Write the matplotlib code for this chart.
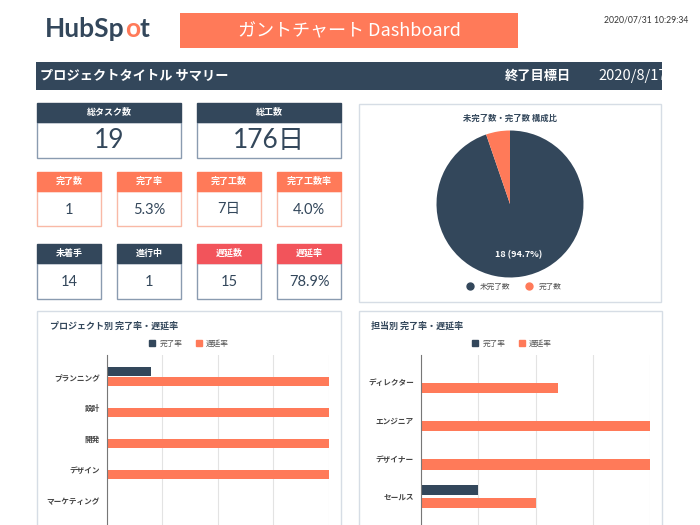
import matplotlib
matplotlib.use('Agg')
import matplotlib.pyplot as plt
from matplotlib.patches import Rectangle, Patch
from matplotlib.lines import Line2D

plt.rcParams['font.family'] = ['Noto Sans CJK JP', 'DejaVu Sans']

DARK = '#33475b'
ORANGE = '#ff7a59'
RED = '#f2545b'
GRAY_BORDER = '#8a9bb0'
LIGHT_BORDER = '#d6dde5'
NUM_FONT = ['Lato', 'Noto Sans CJK JP']

# ---- data ----
title_text = 'ガントチャート Dashboard'
timestamp = '2020/07/31 10:29:34'
summary_title = 'プロジェクトタイトル サマリー'
goal_label = '終了目標日'
goal_date = '2020/8/17'

top_labels = ['総タスク数', '総工数']
top_values = ['19', '176日']
done_labels = ['完了数', '完了率', '完了工数', '完了工数率']
done_values = ['1', '5.3%', '7日', '4.0%']
status_labels = ['未着手', '進行中', '遅延数', '遅延率']
status_values = ['14', '1', '15', '78.9%']
status_colors = [DARK, DARK, RED, RED]

pie_title = '未完了数・完了数 構成比'
pie_labels = ['未完了数', '完了数']
pie_values = [18, 1]

series_names = ['完了率', '遅延率']
projects = ['プランニング', '設計', '開発', 'デザイン', 'マーケティング']
proj_done = [20, 0, 0, 0, 0]
proj_delay = [100, 100, 100, 100, 0]
owners = ['ディレクター', 'エンジニア', 'デザイナー', 'セールス']
own_done = [0, 0, 0, 25]
own_delay = [60, 100, 100, 50]

W, H = 700, 525
fig = plt.figure(figsize=(7, 5.25), dpi=100)


def rect(x0, y0, x1, y1):
    return [x0 / W, 1 - y1 / H, (x1 - x0) / W, (y1 - y0) / H]


# full-figure overlay in pixel coordinates
bg = fig.add_axes([0, 0, 1, 1])
bg.set_xlim(0, W)
bg.set_ylim(H, 0)
bg.axis('off')

# logo, pieces laid out one after another
renderer = fig.canvas.get_renderer()
x = 45
for part, col in [('HubSp', DARK), ('o', ORANGE), ('t', DARK)]:
    t = bg.text(x, 29, part, ha='left', va='center', fontsize=19, fontweight='bold',
                color=col, family='Lato')
    x += t.get_window_extent(renderer).width

# title box
bg.add_patch(Rectangle((180, 13), 338, 35, facecolor=ORANGE, edgecolor='none'))
bg.text(349, 31, title_text, ha='center', va='center', fontsize=13, color='white')
bg.text(688, 20, timestamp, ha='right', va='center', fontsize=6.2, color='#333333',
        family='Lato')

# summary bar
sb = fig.add_axes(rect(36, 62, 662, 90))
sb.set_xlim(36, 662)
sb.set_ylim(90, 62)
sb.set_facecolor(DARK)
sb.set_xticks([])
sb.set_yticks([])
for s in sb.spines.values():
    s.set_visible(False)
sb.text(40, 76, summary_title, ha='left', va='center', fontsize=9.5,
        fontweight='bold', color='white')
sb.text(505, 76, goal_label, ha='left', va='center', fontsize=9.5,
        fontweight='bold', color='white')
sb.text(598, 76, goal_date, ha='left', va='center', fontsize=10.5, color='white',
        clip_on=True)


def kpi(x0, x1, y0, y1, y2, label, value, head_color, border, vsize):
    bg.add_patch(Rectangle((x0, y1), x1 - x0, y2 - y1, facecolor='white',
                           edgecolor=border, linewidth=1.0))
    bg.add_patch(Rectangle((x0, y0), x1 - x0, y1 - y0, facecolor=head_color,
                           edgecolor=head_color, linewidth=1.0))
    bg.text((x0 + x1) / 2, (y0 + y1) / 2, label, ha='center', va='center',
            fontsize=6.5, fontweight='bold', color='white')
    bg.text((x0 + x1) / 2, (y1 + y2) / 2 + 1, value, ha='center', va='center',
            fontsize=vsize, color=DARK, family=NUM_FONT)


big_x = [(37, 181), (197, 341)]
small_x = [(37, 101), (117, 181), (197, 261), (277, 341)]
for (x0, x1), lab, val in zip(big_x, top_labels, top_values):
    kpi(x0, x1, 103, 122, 158, lab, val, DARK, GRAY_BORDER, 19)
for (x0, x1), lab, val in zip(small_x, done_labels, done_values):
    kpi(x0, x1, 172, 191, 226, lab, val, ORANGE, '#f9b9a6', 10.5)
for (x0, x1), lab, val, c in zip(small_x, status_labels, status_values, status_colors):
    kpi(x0, x1, 244, 263, 299, lab, val, c, GRAY_BORDER, 10.5)

# panel borders
bg.add_patch(Rectangle((359, 104), 302, 198, facecolor='none', edgecolor=LIGHT_BORDER, lw=1))
bg.add_patch(Rectangle((37, 311), 304, 220, facecolor='none', edgecolor=LIGHT_BORDER, lw=1))
bg.add_patch(Rectangle((359, 311), 303, 220, facecolor='none', edgecolor=LIGHT_BORDER, lw=1))

# pie
bg.text(510, 118, pie_title, ha='center', va='center', fontsize=6, fontweight='bold',
        color=DARK)
pa = fig.add_axes(rect(436.5, 130.5, 583.5, 277.5))
total = sum(pie_values)
pa.pie(pie_values, colors=[DARK, ORANGE], startangle=90, counterclock=False,
       autopct=lambda p: f'{round(p * total / 100)} ({p:.1f}%)' if p > 50 else '',
       pctdistance=0.7, textprops=dict(color='white', fontsize=6.5, fontweight='bold'))
pa.set_xlim(-1, 1)
pa.set_ylim(-1, 1)
pa.set_aspect('equal')
handles = [Line2D([], [], marker='o', ls='', color=c, markersize=5)
           for c in [DARK, ORANGE]]
fig.legend(handles, pie_labels, loc='center', bbox_to_anchor=(512 / W, 1 - 287 / H),
           ncol=2, frameon=False, fontsize=5.5, handletextpad=0.3, columnspacing=1.5,
           labelcolor='#555555')


def bar_panel(x0, x1, title, title_x, cats, done, delay, first_y, step, h, off, leg_x):
    bg.text(title_x, 326, title, ha='left', va='center', fontsize=6.5,
            fontweight='bold', color=DARK)
    ax = fig.add_axes(rect(x0, 355, x1, 525))
    ys = list(range(len(cats)))
    ax.barh([y - off for y in ys], done, height=h, color=DARK)
    ax.barh([y + off for y in ys], delay, height=h, color=ORANGE)
    ax.set_xlim(0, 100)
    ax.set_ylim((525 - first_y) / step, -(first_y - 355) / step)
    ax.set_yticks(ys)
    ax.set_yticklabels(cats, fontsize=5.5, fontweight='bold', color='#444444')
    ax.tick_params(axis='y', length=0, pad=5)
    ax.set_xticks([0, 25, 50, 75, 100])
    ax.tick_params(axis='x', length=0, labelbottom=False)
    ax.grid(axis='x', color='#e3e3e3', lw=0.8)
    ax.set_axisbelow(True)
    for s in ['top', 'right', 'bottom']:
        ax.spines[s].set_visible(False)
    ax.spines['left'].set_color('#777777')
    ax.spines['left'].set_linewidth(0.8)
    ax.set_facecolor('none')
    fig.legend([Patch(color=DARK), Patch(color=ORANGE)], series_names, loc='center',
               bbox_to_anchor=(leg_x / W, 1 - 344 / H), ncol=2, frameon=False,
               fontsize=5.5, handlelength=0.8, handleheight=0.8, handletextpad=0.5,
               columnspacing=1.8, labelcolor='#555555')


bar_panel(106.7, 329, 'プロジェクト別 完了率・遅延率', 50, projects, proj_done, proj_delay,
          376.5, 31, 0.31, 0.16, 189)
bar_panel(420.7, 650.3, '担当別 完了率・遅延率', 371, owners, own_done, own_delay,
          381.5, 38.3, 0.27, 0.165, 512)

fig.savefig('out.png', dpi=100)
